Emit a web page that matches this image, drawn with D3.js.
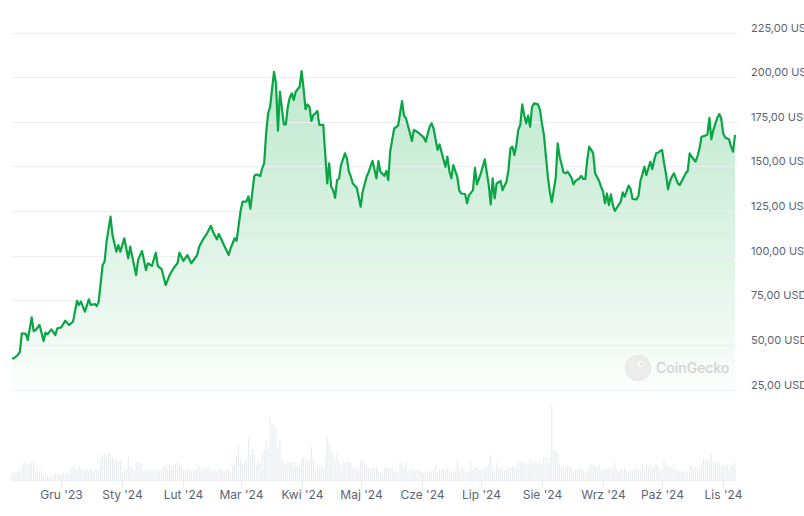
<!DOCTYPE html>
<html><head><meta charset="utf-8">
<script src="https://cdn.jsdelivr.net/npm/d3@7"></script>
<style>
html,body{margin:0;padding:0;background:#fff;overflow:hidden}
svg{display:block;font-family:Inter,"Noto Sans",sans-serif}
</style></head><body>
<svg id="chart" width="804" height="516"></svg>
<script>
// ---------- DATA ----------
const pricePoints = [
["2023-11-06",42.5],["2023-11-07",42.8],["2023-11-09",44.6],["2023-11-10",46.5],["2023-11-11",56.8],["2023-11-13",56.4],["2023-11-14",53.0],["2023-11-16",65.7],["2023-11-17",58.0],["2023-11-18",58.6],["2023-11-20",61.4],["2023-11-22",52.4],["2023-11-23",57.1],["2023-11-24",56.2],["2023-11-26",59.0],["2023-11-28",55.8],["2023-11-29",59.6],
["2023-12-01",60.1],["2023-12-03",63.8],["2023-12-05",61.4],["2023-12-07",63.3],["2023-12-09",75.0],["2023-12-10",72.6],["2023-12-11",74.5],["2023-12-13",68.9],["2023-12-15",75.8],["2023-12-16",72.6],["2023-12-18",73.2],["2023-12-19",72.0],["2023-12-20",74.5],["2023-12-22",95.0],["2023-12-23",96.9],["2023-12-24",108.0],["2023-12-26",122.1],["2023-12-27",111.8],["2023-12-29",102.5],["2023-12-30",106.2],["2023-12-31",102.5],
["2024-01-02",110.0],["2024-01-04",98.8],["2024-01-05",105.3],["2024-01-08",89.4],["2024-01-09",97.8],["2024-01-11",102.9],["2024-01-13",92.2],["2024-01-14",96.0],["2024-01-16",94.5],["2024-01-18",101.9],["2024-01-19",94.5],["2024-01-21",92.6],["2024-01-23",83.8],["2024-01-25",89.4],["2024-01-27",93.2],["2024-01-29",96.0],["2024-01-30",101.9],
["2024-02-01",97.3],["2024-02-03",100.6],["2024-02-05",96.0],["2024-02-08",100.6],["2024-02-09",105.3],["2024-02-11",109.4],["2024-02-13",112.8],["2024-02-15",117.0],["2024-02-16",113.7],["2024-02-18",109.4],["2024-02-19",112.4],["2024-02-22",105.3],["2024-02-24",100.6],["2024-02-25",104.4],["2024-02-27",110.0],["2024-02-28",108.6],
["2024-03-01",125.0],["2024-03-02",130.5],["2024-03-04",130.5],["2024-03-05",133.5],["2024-03-06",126.6],["2024-03-08",144.9],["2024-03-09",145.8],["2024-03-11",144.9],["2024-03-12",149.2],["2024-03-13",152.0],["2024-03-14",168.8],["2024-03-15",180.0],["2024-03-16",183.5],["2024-03-18",203.3],["2024-03-19",196.8],["2024-03-20",170.3],["2024-03-21",192.1],["2024-03-22",182.8],["2024-03-23",173.8],["2024-03-24",173.8],["2024-03-25",183.7],["2024-03-26",188.9],["2024-03-27",191.2],["2024-03-28",187.5],["2024-03-29",192.1],["2024-03-31",194.9],
["2024-04-01",203.7],["2024-04-02",194.0],["2024-04-03",182.3],["2024-04-04",185.0],["2024-04-05",183.7],["2024-04-06",175.7],["2024-04-07",179.1],["2024-04-08",180.0],["2024-04-09",181.3],["2024-04-10",173.5],["2024-04-12",173.5],["2024-04-14",140.7],["2024-04-15",152.0],["2024-04-16",138.9],["2024-04-17",137.0],["2024-04-18",132.7],["2024-04-19",142.6],["2024-04-20",143.5],["2024-04-21",151.0],["2024-04-23",157.6],["2024-04-24",154.8],["2024-04-25",147.3],["2024-04-26",144.5],["2024-04-27",140.7],["2024-04-29",138.3],
["2024-05-01",127.7],["2024-05-02",136.1],["2024-05-04",144.5],["2024-05-05",147.0],["2024-05-07",153.3],["2024-05-09",143.6],["2024-05-10",153.3],["2024-05-11",147.3],["2024-05-13",145.0],["2024-05-14",147.7],["2024-05-15",142.6],["2024-05-16",158.9],["2024-05-18",171.5],["2024-05-20",173.1],["2024-05-22",186.9],["2024-05-23",178.7],["2024-05-24",177.2],["2024-05-26",168.8],["2024-05-27",164.5],["2024-05-28",170.7],["2024-05-30",169.4],
["2024-06-01",167.5],["2024-06-02",166.5],["2024-06-03",164.1],["2024-06-05",172.5],["2024-06-06",174.4],["2024-06-07",171.5],["2024-06-09",159.5],["2024-06-10",162.6],["2024-06-13",150.1],["2024-06-14",155.7],["2024-06-15",147.7],["2024-06-16",143.6],["2024-06-17",151.0],["2024-06-19",144.5],["2024-06-20",137.0],["2024-06-21",135.1],["2024-06-23",134.8],["2024-06-24",129.6],["2024-06-25",134.2],["2024-06-27",137.0],["2024-06-28",149.5],["2024-06-29",140.2],
["2024-07-01",146.4],["2024-07-03",154.2],["2024-07-05",139.8],["2024-07-06",129.0],["2024-07-07",143.6],["2024-07-08",132.3],["2024-07-09",140.7],["2024-07-11",142.1],["2024-07-12",137.0],["2024-07-14",141.7],["2024-07-15",148.2],["2024-07-16",160.4],["2024-07-17",161.3],["2024-07-18",156.7],["2024-07-19",162.3],["2024-07-20",170.7],["2024-07-21",173.5],["2024-07-22",185.0],["2024-07-23",179.1],["2024-07-24",174.4],["2024-07-25",178.7],["2024-07-26",172.5],["2024-07-27",183.7],["2024-07-28",185.6],["2024-07-30",185.0],["2024-07-31",181.9],
["2024-08-01",174.4],["2024-08-02",167.9],["2024-08-04",144.5],["2024-08-05",136.1],["2024-08-06",130.2],["2024-08-08",144.0],["2024-08-09",163.2],["2024-08-10",155.7],["2024-08-12",146.9],["2024-08-13",146.4],["2024-08-14",147.3],["2024-08-16",144.0],["2024-08-17",140.2],["2024-08-18",142.1],["2024-08-20",143.6],["2024-08-21",145.0],["2024-08-22",143.2],["2024-08-23",143.2],["2024-08-24",153.9],["2024-08-25",161.3],["2024-08-26",159.5],["2024-08-27",157.6],["2024-08-28",146.4],["2024-08-30",142.1],["2024-08-31",138.9],
["2024-09-01",136.1],["2024-09-02",129.6],["2024-09-03",135.1],["2024-09-04",128.6],["2024-09-05",134.6],["2024-09-06",128.6],["2024-09-07",125.3],["2024-09-08",127.1],["2024-09-10",130.5],["2024-09-11",135.7],["2024-09-12",133.3],["2024-09-14",139.5],["2024-09-15",137.6],["2024-09-16",132.0],["2024-09-18",131.8],["2024-09-19",133.8],["2024-09-20",142.1],["2024-09-21",145.8],["2024-09-22",150.1],["2024-09-23",145.4],["2024-09-25",152.9],["2024-09-26",148.8],["2024-09-27",153.9],["2024-09-28",157.6],["2024-09-29",157.9],["2024-09-30",158.9],
["2024-10-01",159.5],["2024-10-02",152.0],["2024-10-03",145.8],["2024-10-04",137.4],["2024-10-05",142.1],["2024-10-06",144.5],["2024-10-07",146.4],["2024-10-09",140.7],["2024-10-10",139.8],["2024-10-11",142.1],["2024-10-13",146.4],["2024-10-14",147.7],["2024-10-15",157.6],["2024-10-16",155.7],["2024-10-18",152.9],["2024-10-19",156.1],["2024-10-20",160.4],["2024-10-21",166.9],["2024-10-23",167.5],["2024-10-24",168.2],["2024-10-25",177.5],["2024-10-26",165.4],["2024-10-27",170.7],["2024-10-29",177.5],["2024-10-30",179.6],["2024-10-31",177.2],
["2024-11-01",168.8],["2024-11-02",166.5],["2024-11-04",165.4],["2024-11-05",161.3],["2024-11-06",158.5],["2024-11-07",167.9]
];

const yTickValues = [25,50,75,100,125,150,175,200,225];
const yTickLabels = ["25,00 USD","50,00 USD","75,00 USD","100,00 USD","125,00 USD","150,00 USD","175,00 USD","200,00 USD","225,00 USD"];

const xTickDates = ["2023-12-01","2024-01-01","2024-02-01","2024-03-01","2024-04-01","2024-05-01","2024-06-01","2024-07-01","2024-08-01","2024-09-01","2024-10-01","2024-11-01"];
const xTickLabels = ["Gru '23","Sty '24","Lut '24","Mar '24","Kwi '24","Maj '24","Cze '24","Lip '24","Sie '24","Wrz '24","Paź '24","Lis '24"];

// daily trading volume (relative units), one value per day from volumeStart
const volumeStart = "2023-11-06";
const volumes = [
6,8,7,9,8, 14,17,17,15,16,18,17, 9,10,8,9, 5,4,4,3,4,5, 7,6,7,5,8,6,7,6,
12,14,13,10,15,11,9, 10,11,9,12,8,10,11,9, 20,25,26,22,28,26,22, 20,21,19,20,
8,9,10, 23, 14,12,10, 17,18,17,16, 10,9,11,8,10,9,11,8,9,10,
14,15,12,16,14,15,16,18,15,14, 10,9,11,10,9,10,11,12,14,10, 12,11,13,12,10,
9,10,8,11,12,10,9,11,10,8, 14,18,25,35,20,15,18,20,
42,25,31,25,15,20,17,27,30,40, 30,62,55,55,52,30,40,20,18,14,
18,17,18,13,17,14,13,20,22,21, 19,20,33,21,10,13,12,14,11,22,
43,37,27,25,22,28,19,15,18,17, 19,18,17,13,11,12,10,19,20,17,
14,12,11,13,12,13,10,8,6,12, 13,12,13,12,9,10,8, 18,17,12,
18,9,10,11,10,9,11,10,8,7, 9,8,9,7,9,15,8,11,10,12,
9,11,10,8,7,9,19,10,12,11, 10,7,9,17,10,12,13,11,9,11,
12,14,16,25,12,10,17,12,11,12, 10,11,13,12,15,12,14,18,19,17,
18,17,15,21,16,18,19,17,18,16, 23,23,17,22,75,30,29,28,17,14,
12,13,14,13,12,9,10,11,12,11, 10,8,10,15,16,14,15,13,16,9,
11,10,12,11,13,10,18,10,8,11, 10,12,9,8,10,9,11,12,10,9,
16,11,15,14,16,12,15,16,13,10, 12,21,14,15,13,12,15,11,9,8,
9,8,10,9,14,15,12,13,10,12, 16,21,20,19,22,26,18,16,19,18,
14,15,14,16,10,15,14,18
];

// ---------- CHART ----------
const parse = d3.utcParse("%Y-%m-%d");
const prices = pricePoints.map(([d, v]) => ({date: parse(d), value: v}));
const vStart = parse(volumeStart);
const vols = volumes.map((v, i) => ({date: d3.utcDay.offset(vStart, i), value: v}));

const svg = d3.select("#chart");
const x = d3.scaleUtc()
  .domain([parse("2023-11-06"), parse("2024-11-07")])
  .range([12, 735]);
const y = d3.scaleLinear().domain([25, 225]).range([390, 33]);
const yVol = d3.scaleLinear().domain([0, d3.max(volumes)]).range([480, 405]);

const defs = svg.append("defs");
const grad = defs.append("linearGradient")
  .attr("id", "areaGrad").attr("gradientUnits", "userSpaceOnUse")
  .attr("x1", 0).attr("x2", 0).attr("y1", y(205)).attr("y2", y(25));
grad.append("stop").attr("offset", 0).attr("stop-color", "#00a83e").attr("stop-opacity", 0.26);
grad.append("stop").attr("offset", 0.6).attr("stop-color", "#00a83e").attr("stop-opacity", 0.12);
grad.append("stop").attr("offset", 1).attr("stop-color", "#00a83e").attr("stop-opacity", 0.015);

// area
svg.append("path").datum(prices)
  .attr("fill", "url(#areaGrad)")
  .attr("d", d3.area().x(d => x(d.date)).y0(y(25)).y1(d => y(d.value)));

// gridlines
svg.append("g").selectAll("line").data(yTickValues).join("line")
  .attr("x1", 12).attr("x2", 737)
  .attr("y1", d => y(d)).attr("y2", d => y(d))
  .attr("stroke", "#eceef1").attr("stroke-width", 1).attr("shape-rendering", "crispEdges");

// y labels
svg.append("g").selectAll("text").data(yTickValues).join("text")
  .attr("x", 751).attr("y", d => y(d) - 1.5)
  .attr("font-size", 11).attr("fill", "#5b6474")
  .text((d, i) => yTickLabels[i]);

// watermark
const wm = svg.append("g").attr("opacity", 0.9);
wm.append("circle").attr("cx", 638).attr("cy", 368).attr("r", 12.5).attr("fill", "#ebebeb").attr("stroke", "#e2e2e2");
wm.append("circle").attr("cx", 641).attr("cy", 364).attr("r", 3).attr("fill", "#fafafa");
wm.append("circle").attr("cx", 641.5).attr("cy", 364).attr("r", 1.3).attr("fill", "#d6d6d6");
wm.append("text").attr("x", 656).attr("y", 373).attr("font-size", 14).attr("font-weight", 500)
  .attr("fill", "#cfcfcf").text("CoinGecko");

// price line
svg.append("path").datum(prices)
  .attr("fill", "none").attr("stroke", "#0aa545").attr("stroke-width", 2.2)
  .attr("stroke-linejoin", "round")
  .attr("d", d3.line().x(d => x(d.date)).y(d => y(d.value)));

// volume bars
svg.append("g").selectAll("rect").data(vols).join("rect")
  .attr("x", d => x(d.date) - 0.5).attr("width", 1)
  .attr("y", d => yVol(d.value)).attr("height", d => yVol(0) - yVol(d.value))
  .attr("fill", "#e7eaee");

// volume baseline
svg.append("line").attr("x1", 12).attr("x2", 735).attr("y1", 480.5).attr("y2", 480.5)
  .attr("stroke", "#eceef1");

// x axis ticks & labels
const xt = svg.append("g").selectAll("g").data(xTickDates).join("g")
  .attr("transform", d => `translate(${Math.round(x(parse(d))) + 0.5},0)`);
xt.append("line").attr("y1", 480).attr("y2", 488).attr("stroke", "#e7eaee");
xt.append("text").attr("y", 498.5).attr("text-anchor", "middle")
  .attr("font-size", 12).attr("fill", "#5b6474")
  .text((d, i) => xTickLabels[i]);
</script>
</body></html>
